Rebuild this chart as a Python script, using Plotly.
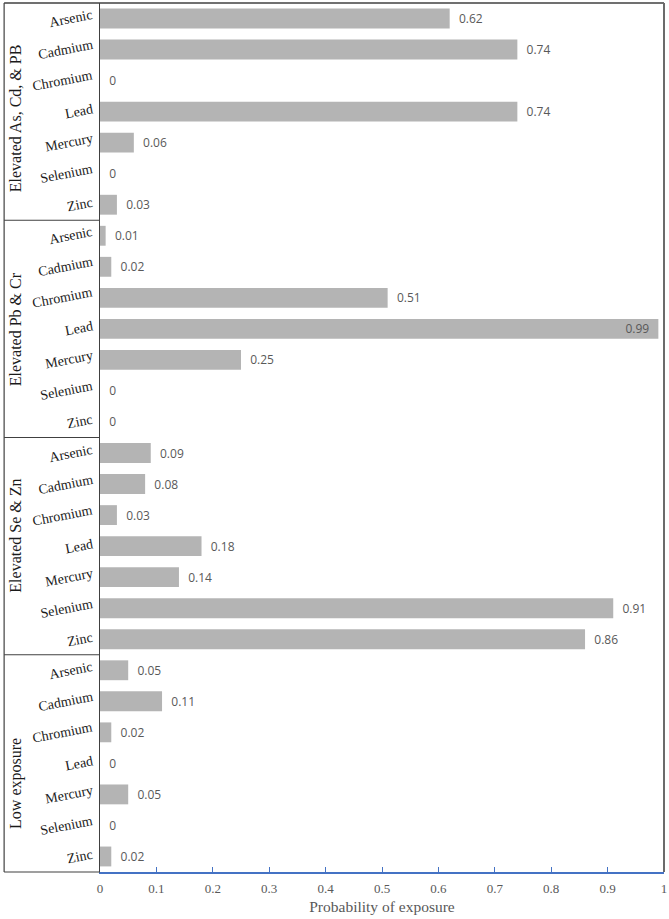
import plotly.graph_objects as go

# ── Data ───────────────────────────────────────────────────
metals = ["Arsenic", "Cadmium", "Chromium", "Lead", "Mercury", "Selenium", "Zinc"]
groups = ["Elevated As, Cd, & PB", "Elevated Pb & Cr", "Elevated Se & Zn", "Low exposure"]

elevated_as_cd_pb = [0.62, 0.74, 0, 0.74, 0.06, 0, 0.03]
elevated_pb_cr    = [0.01, 0.02, 0.51, 0.99, 0.25, 0, 0]
elevated_se_zn    = [0.09, 0.08, 0.03, 0.18, 0.14, 0.91, 0.86]
low_exposure      = [0.05, 0.11, 0.02, 0, 0.05, 0, 0.02]

x_ticks = [0, 0.1, 0.2, 0.3, 0.4, 0.5, 0.6, 0.7, 0.8, 0.9, 1]
x_tick_labels = ["0", "0.1", "0.2", "0.3", "0.4", "0.5", "0.6", "0.7", "0.8", "0.9", "1"]

# ── Build rows ─────────────────────────────────────────────
values = elevated_as_cd_pb + elevated_pb_cr + elevated_se_zn + low_exposure
labels = metals * len(groups)
positions = list(range(len(values)))
n = len(metals)

text = [f"{v:g}  " if v >= 0.95 else f"  {v:g}" for v in values]
textpos = ["inside" if v >= 0.95 else "outside" for v in values]

serif = "Liberation Serif"
grey_txt = "#595959"
dark_txt = "#1a1a1a"

fig = go.Figure()
fig.add_trace(go.Bar(
    x=values, y=positions, orientation="h",
    marker=dict(color="#B4B4B4", line=dict(width=0)),
    width=0.64,
    text=text, textposition=textpos,
    insidetextanchor="end", constraintext="none",
    textfont=dict(family="Open Sans", size=12, color=grey_txt),
    cliponaxis=False,
    hoverinfo="x"
))

# ── Frame and group separators ─────────────────────────────
box_left = -0.170
line_col = "#404040"
shapes = [
    dict(type="line", xref="paper", yref="paper", x0=box_left, x1=box_left, y0=0, y1=1,
         line=dict(color=line_col, width=1.2)),
    dict(type="line", xref="paper", yref="paper", x0=box_left, x1=1, y0=1, y1=1,
         line=dict(color=line_col, width=1.5)),
    dict(type="line", xref="paper", yref="paper", x0=1, x1=1, y0=0, y1=1,
         line=dict(color="#6b6b6b", width=2)),
    dict(type="line", xref="paper", yref="paper", x0=box_left, x1=0, y0=0, y1=0,
         line=dict(color=line_col, width=1.2)),
]
for g in range(1, len(groups)):
    shapes.append(dict(type="line", xref="paper", yref="y", x0=box_left, x1=0,
                       y0=g * n - 0.5, y1=g * n - 0.5,
                       line=dict(color=line_col, width=1.2)))

annotations = []
# group names, rotated (the original places them a little off-centre)
group_label_shift = [0.2, 0.0, -0.35, 0.65]
for g, name in enumerate(groups):
    annotations.append(dict(
        text=name, xref="paper", yref="y", x=-0.150,
        y=g * n + (n - 1) / 2 + group_label_shift[g],
        textangle=-90, showarrow=False, xanchor="center", yanchor="middle",
        font=dict(family=serif, size=16, color=dark_txt)
    ))
# metal names, slightly tilted
for pos, lab in zip(positions, labels):
    annotations.append(dict(
        text=lab, xref="paper", yref="y", x=-0.006, y=pos,
        textangle=-11, showarrow=False, xanchor="right", yanchor="middle",
        font=dict(family=serif, size=14, color=dark_txt)
    ))

fig.update_layout(
    width=669, height=919,
    margin=dict(l=100, r=5, t=3, b=47),
    paper_bgcolor="white", plot_bgcolor="white",
    showlegend=False,
    shapes=shapes, annotations=annotations,
    xaxis=dict(
        range=[0, 1], tickvals=x_ticks, ticktext=x_tick_labels,
        showgrid=False, zeroline=False, automargin=False,
        showline=True, linecolor="#4472C4", linewidth=1.5,
        ticks="inside", ticklen=5, tickcolor="#4472C4",
        ticklabelstandoff=4,
        tickfont=dict(family=serif, size=13, color=grey_txt),
        title=dict(text="Probability of exposure", standoff=6,
                   font=dict(family=serif, size=15.5, color=grey_txt)),
    ),
    yaxis=dict(
        range=[len(values) - 0.5, -0.5],
        tickvals=positions, showticklabels=False,
        showgrid=False, zeroline=False, automargin=False,
        showline=True, linecolor=line_col, linewidth=1.2,
        ticks="",
    ),
)

# page has a default body margin; drop it so the figure fills the window
fig.write_html("out.html", config={"displayModeBar": False},
               post_script="document.body.style.margin='0';")
